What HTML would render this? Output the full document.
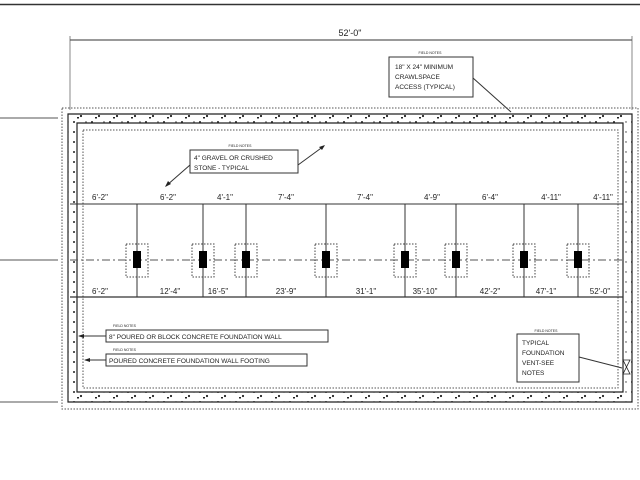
<!DOCTYPE html>
<html><head><meta charset="utf-8"><style>
html,body{margin:0;padding:0;background:#fff;width:640px;height:480px;overflow:hidden}
svg text{font-family:"Liberation Sans",sans-serif;fill:#222}
</style></head><body>
<svg width="640" height="480" viewBox="0 0 640 480" xmlns="http://www.w3.org/2000/svg">
<defs>
<pattern id="conc" width="18" height="10" patternUnits="userSpaceOnUse">
<rect width="18" height="10" fill="#fff"/>
<circle cx="2" cy="2" r="1" fill="#222"/><circle cx="9" cy="6" r="1.1" fill="#222"/>
<circle cx="14" cy="2" r="0.7" fill="#333"/><rect x="5" y="7" width="2" height="1.5" fill="#222"/>
</pattern>
</defs>
<line x1="0" y1="4.5" x2="640" y2="4.5" stroke="#333" stroke-width="1.5"/>
<line x1="70" y1="40" x2="632" y2="40" stroke="#333"/>
<line x1="70" y1="36" x2="70" y2="110" stroke="#555" stroke-width="0.7"/>
<line x1="632" y1="36" x2="632" y2="110" stroke="#555" stroke-width="0.7"/>
<text x="350" y="36" font-size="9" text-anchor="middle">52'-0"</text>
<line x1="0" y1="118" x2="58" y2="118" stroke="#555"/>
<line x1="0" y1="260" x2="58" y2="260" stroke="#555"/>
<line x1="0" y1="402" x2="58" y2="402" stroke="#555"/>
<rect x="62" y="108" width="576" height="301" fill="none" stroke="#555" stroke-dasharray="1.5,1.5" stroke-width="1"/>
<path d="M68 114 H632 V402 H68 Z M77 123 V392 H623 V123 Z" fill="url(#conc)" fill-rule="evenodd" stroke="#222" stroke-width="1.2"/>
<rect x="83" y="130" width="535" height="258" fill="none" stroke="#555" stroke-dasharray="1.5,1.5"/>
<line x1="70" y1="204" x2="623" y2="204" stroke="#333"/>
<line x1="70" y1="297" x2="623" y2="297" stroke="#333" stroke-width="1.2"/>
<line x1="70" y1="260" x2="623" y2="260" stroke="#555" stroke-dasharray="8,3,2,3"/>
<g stroke="#333">
<line x1="137" y1="204" x2="137" y2="297"/><line x1="203" y1="204" x2="203" y2="297"/>
<line x1="246" y1="204" x2="246" y2="297"/><line x1="326" y1="204" x2="326" y2="297"/>
<line x1="405" y1="204" x2="405" y2="297"/><line x1="456" y1="204" x2="456" y2="297"/>
<line x1="524" y1="204" x2="524" y2="297"/><line x1="578" y1="204" x2="578" y2="297"/>
</g>
<g fill="none" stroke="#444" stroke-dasharray="1.5,1.5">
<rect x="126" y="244" width="22" height="33"/><rect x="192" y="244" width="22" height="33"/>
<rect x="235" y="244" width="22" height="33"/><rect x="315" y="244" width="22" height="33"/>
<rect x="394" y="244" width="22" height="33"/><rect x="445" y="244" width="22" height="33"/>
<rect x="513" y="244" width="22" height="33"/><rect x="567" y="244" width="22" height="33"/>
</g>
<g fill="#000">
<rect x="133" y="251" width="8" height="17"/><rect x="199" y="251" width="8" height="17"/>
<rect x="242" y="251" width="8" height="17"/><rect x="322" y="251" width="8" height="17"/>
<rect x="401" y="251" width="8" height="17"/><rect x="452" y="251" width="8" height="17"/>
<rect x="520" y="251" width="8" height="17"/><rect x="574" y="251" width="8" height="17"/>
</g>
<g font-size="8" text-anchor="middle">
<text x="100" y="200">6'-2"</text><text x="168" y="200">6'-2"</text><text x="225" y="200">4'-1"</text>
<text x="286" y="200">7'-4"</text><text x="365" y="200">7'-4"</text><text x="432" y="200">4'-9"</text>
<text x="490" y="200">6'-4"</text><text x="551" y="200">4'-11"</text><text x="603" y="200">4'-11"</text>
<text x="100" y="294">6'-2"</text><text x="170" y="294">12'-4"</text><text x="218" y="294">16'-5"</text>
<text x="286" y="294">23'-9"</text><text x="366" y="294">31'-1"</text><text x="425" y="294">35'-10"</text>
<text x="490" y="294">42'-2"</text><text x="546" y="294">47'-1"</text><text x="600" y="294">52'-0"</text>
</g>
<g font-size="3.5" text-anchor="middle"><text x="430" y="54">FIELD NOTES</text><text x="240" y="147">FIELD NOTES</text>
<text x="113" y="327" text-anchor="start">FIELD NOTES</text><text x="113" y="351" text-anchor="start">FIELD NOTES</text><text x="546" y="332">FIELD NOTES</text></g>
<rect x="389" y="57" width="84" height="40" fill="#fff" stroke="#333"/>
<g font-size="6.5"><text x="395" y="69">18" X 24" MINIMUM</text><text x="395" y="79">CRAWLSPACE</text><text x="395" y="89">ACCESS (TYPICAL)</text></g>
<line x1="473" y1="78" x2="511" y2="112" stroke="#333"/>
<rect x="190" y="150" width="108" height="23" fill="#fff" stroke="#333"/>
<g font-size="6.5"><text x="194" y="160">4" GRAVEL OR CRUSHED</text><text x="194" y="170">STONE - TYPICAL</text></g>
<line x1="190" y1="165" x2="166" y2="186" stroke="#333"/><polygon points="165,187 168,181 171,184" fill="#222"/>
<line x1="298" y1="165" x2="324" y2="146" stroke="#333"/><polygon points="325,145 319,147 322,150" fill="#222"/>
<rect x="106" y="330" width="222" height="12" fill="#fff" stroke="#333"/>
<text x="109" y="339" font-size="6.5">8" POURED OR BLOCK CONCRETE FOUNDATION WALL</text>
<line x1="106" y1="336" x2="79" y2="336" stroke="#333"/><polygon points="78,336 84,334 84,338" fill="#222"/>
<rect x="106" y="354" width="201" height="12" fill="#fff" stroke="#333"/>
<text x="109" y="363" font-size="6.5">POURED CONCRETE FOUNDATION WALL FOOTING</text>
<line x1="106" y1="360" x2="85" y2="360" stroke="#333"/><polygon points="84,360 90,358 90,362" fill="#222"/>
<rect x="517" y="334" width="62" height="48" fill="#fff" stroke="#333"/>
<g font-size="6.5"><text x="522" y="345">TYPICAL</text><text x="522" y="355">FOUNDATION</text><text x="522" y="365">VENT-SEE</text><text x="522" y="375">NOTES</text></g>
<line x1="579" y1="357" x2="622" y2="368" stroke="#333"/>
<path d="M623 360 L630 360 L623 374 L630 374 Z" fill="#fff" stroke="#222" stroke-width="0.8"/>
</svg>
</body></html>
